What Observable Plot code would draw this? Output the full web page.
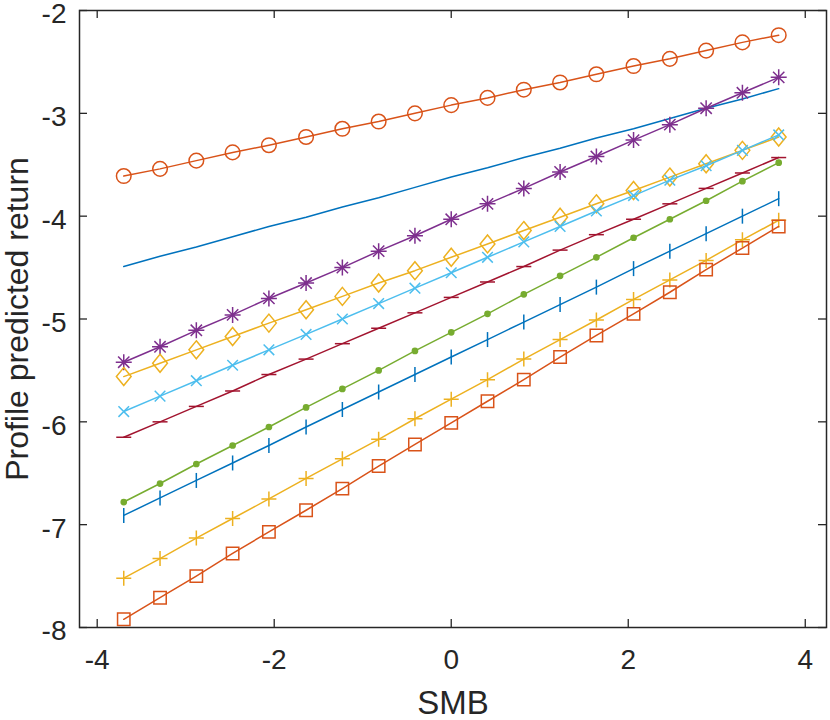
<!DOCTYPE html>
<html><head><meta charset="utf-8">
<script src="https://cdn.jsdelivr.net/npm/d3@7"></script>
<script src="https://cdn.jsdelivr.net/npm/@observablehq/plot@0.6"></script>
<style>body{margin:0;background:#fff}</style>
</head><body><div id="chart"></div>
<script>
const smb = [-3.70, -3.29, -2.88, -2.47, -2.06, -1.64, -1.23, -0.82, -0.41, 0, 0.41, 0.82, 1.23, 1.64, 2.06, 2.47, 2.88, 3.29, 3.70];
const circleSeries = [-3.61, -3.54, -3.46, -3.38, -3.31, -3.23, -3.15, -3.08, -3.00, -2.92, -2.85, -2.77, -2.70, -2.62, -2.54, -2.47, -2.39, -2.31, -2.24];
const plainSeries = [-4.49, -4.39, -4.30, -4.20, -4.10, -4.01, -3.91, -3.82, -3.72, -3.62, -3.53, -3.43, -3.34, -3.24, -3.15, -3.05, -2.95, -2.86, -2.76];
const starSeries = [-5.42, -5.27, -5.11, -4.96, -4.80, -4.65, -4.50, -4.34, -4.19, -4.03, -3.88, -3.73, -3.57, -3.42, -3.26, -3.11, -2.95, -2.80, -2.65];
const diamondSeries = [-5.56, -5.43, -5.30, -5.17, -5.04, -4.91, -4.78, -4.65, -4.53, -4.40, -4.27, -4.14, -4.01, -3.88, -3.75, -3.62, -3.49, -3.36, -3.23];
const crossSeries = [-5.90, -5.75, -5.60, -5.45, -5.30, -5.15, -5.00, -4.85, -4.70, -4.55, -4.40, -4.25, -4.10, -3.95, -3.80, -3.65, -3.51, -3.36, -3.21];
const minusSeries = [-6.15, -6.00, -5.85, -5.70, -5.54, -5.39, -5.24, -5.09, -4.94, -4.79, -4.64, -4.49, -4.33, -4.18, -4.03, -3.88, -3.73, -3.58, -3.43];
const pointSeries = [-6.78, -6.60, -6.41, -6.23, -6.05, -5.86, -5.68, -5.50, -5.31, -5.13, -4.95, -4.76, -4.58, -4.40, -4.21, -4.03, -3.85, -3.66, -3.48];
const barSeries = [-6.91, -6.74, -6.57, -6.40, -6.23, -6.05, -5.88, -5.71, -5.54, -5.37, -5.20, -5.03, -4.86, -4.69, -4.51, -4.34, -4.17, -4.00, -3.83];
const plusSeries = [-7.52, -7.33, -7.13, -6.94, -6.75, -6.55, -6.36, -6.17, -5.97, -5.78, -5.59, -5.39, -5.20, -5.01, -4.81, -4.62, -4.43, -4.23, -4.04];
const squareSeries = [-7.92, -7.71, -7.50, -7.28, -7.07, -6.86, -6.65, -6.43, -6.22, -6.01, -5.80, -5.59, -5.37, -5.16, -4.95, -4.74, -4.52, -4.31, -4.10];
const xTicks = [-4, -2, 0, 2, 4];
const yTicks = [-8, -7, -6, -5, -4, -3, -2];
const xLabel = "SMB";
const yLabel = "Profile predicted return";

function sym(draw) {
  return {draw(ctx, size) { const r = Math.sqrt(size / Math.PI); draw(ctx, r); }};
}
const symMinus = sym((c, r) => { c.moveTo(-r, 0); c.lineTo(r, 0); });
const symBar = sym((c, r) => { c.moveTo(0, -r); c.lineTo(0, r); });
const symPlus = sym((c, r) => { c.moveTo(-r, 0); c.lineTo(r, 0); c.moveTo(0, -r); c.lineTo(0, r); });
const symX = sym((c, r) => { const a = r * 0.7071; c.moveTo(-a, -a); c.lineTo(a, a); c.moveTo(-a, a); c.lineTo(a, -a); });
const symStar = sym((c, r) => { const a = r * 0.7071; c.moveTo(-r, 0); c.lineTo(r, 0); c.moveTo(0, -r); c.lineTo(0, r); c.moveTo(-a, -a); c.lineTo(a, a); c.moveTo(-a, a); c.lineTo(a, -a); });
const symDiamond = sym((c, r) => { const w = r * 0.82; c.moveTo(0, -r); c.lineTo(w, 0); c.lineTo(0, r); c.lineTo(-w, 0); c.closePath(); });
const symSquare = sym((c, r) => { c.rect(-r, -r, 2 * r, 2 * r); });

const specs = [
  {values: plainSeries, color: "#0072BD", symbol: null},
  {values: circleSeries, color: "#D95319", symbol: "circle", r: 7.3, fill: "none"},
  {values: starSeries, color: "#7E2F8E", symbol: symStar, r: 8, fill: "none"},
  {values: diamondSeries, color: "#EDB120", symbol: symDiamond, r: 9, fill: "none"},
  {values: crossSeries, color: "#4DBEEE", symbol: symX, r: 7.5, fill: "none"},
  {values: minusSeries, color: "#A2142F", symbol: symMinus, r: 7.5, fill: "none"},
  {values: pointSeries, color: "#77AC30", symbol: "circle", r: 2.6, fill: "#77AC30"},
  {values: barSeries, color: "#0072BD", symbol: symBar, r: 7.5, fill: "none"},
  {values: plusSeries, color: "#EDB120", symbol: symPlus, r: 7.5, fill: "none"},
  {values: squareSeries, color: "#D95319", symbol: symSquare, r: 6.2, fill: "none"}
];

const marks = [];
for (const s of specs) {
  const data = smb.map((x, i) => ({x, y: s.values[i]}));
  marks.push(Plot.line(data, {x: "x", y: "y", stroke: s.color, strokeWidth: 1.5}));
  if (s.symbol) marks.push(Plot.dot(data, {x: "x", y: "y", symbol: s.symbol, r: s.r, stroke: s.color, fill: s.fill, strokeWidth: 1.5}));
}

const axisColor = "#262626";
const chart = Plot.plot({
  width: 830,
  height: 720,
  marginLeft: 79,
  marginRight: 4,
  marginTop: 10,
  marginBottom: 93,
  x: {domain: [-4.2, 4.24]},
  y: {domain: [-8, -2]},
  style: {fontFamily: "'Liberation Sans', Arial, Helvetica, sans-serif", color: axisColor, background: "#fff"},
  marks: [
    ...marks,
    Plot.frame({stroke: axisColor, strokeWidth: 1.5}),
    Plot.tickX(xTicks, {x: d => d, stroke: axisColor, strokeWidth: 1.3, insetTop: 609}),
    Plot.tickX(xTicks, {x: d => d, stroke: axisColor, strokeWidth: 1.3, insetBottom: 609}),
    Plot.tickY(yTicks, {y: d => d, stroke: axisColor, strokeWidth: 1.3, insetRight: 739}),
    Plot.tickY(yTicks, {y: d => d, stroke: axisColor, strokeWidth: 1.3, insetLeft: 739}),
    Plot.axisX({ticks: xTicks, tickSize: 0, tickPadding: 22, fontSize: 28, label: null, tickFormat: d => String(d)}),
    Plot.axisY({ticks: yTicks, tickSize: 0, tickPadding: 13, dy: 4, fontSize: 28, label: null, tickFormat: d => String(d)}),
    Plot.text([xLabel], {text: d => d, frameAnchor: "bottom", dy: 76, fontSize: 33, lineAnchor: "middle", fill: axisColor}),
    Plot.text([yLabel], {text: d => d, frameAnchor: "left", textAnchor: "middle", dx: -62, rotate: -90, fontSize: 32, lineAnchor: "middle", fill: axisColor})
  ]
});
document.getElementById("chart").appendChild(chart);
</script>
</body></html>
